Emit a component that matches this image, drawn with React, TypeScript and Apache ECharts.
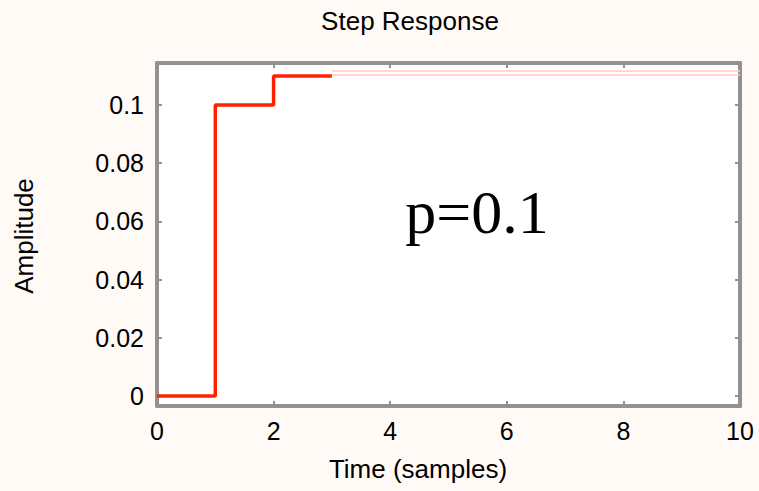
import React, { useEffect, useRef } from "react";
import * as echarts from "echarts";

const stepTimes = [0, 1, 2, 3];
const stepValues = [0, 0.1, 0.11, 0.11];
const faintTimes = [3, 10];
const faintUpper = [0.1117, 0.1117];
const faintLower = [0.1103, 0.1103];
const xTicks = [0, 2, 4, 6, 8, 10];
const yTicks = [0, 0.02, 0.04, 0.06, 0.08, 0.1];
const titleText = "Step Response";
const xLabel = "Time (samples)";
const yLabel = "Amplitude";
const annotation = "p=0.1";

const GRAY = "#929292";
const FONT = "'Liberation Sans', Arial, Helvetica, sans-serif";

export default function App() {
  const ref = useRef<HTMLDivElement>(null);
  useEffect(() => {
    if (!ref.current) return;
    const chart = echarts.init(ref.current, undefined, { renderer: "svg" });
    const pair = (xs: number[], ys: number[]) => xs.map((x, i) => [x, ys[i]]);
    const axisCommon = {
      type: "value" as const,
      axisLine: { show: true, onZero: false, lineStyle: { color: GRAY, width: 4 } },
      axisTick: { show: true, inside: true, length: 5, lineStyle: { color: GRAY, width: 2 } },
      splitLine: { show: false },
    };
    chart.setOption({
      animation: false,
      backgroundColor: "#fffaf6",
      grid: { left: 157, right: 19, top: 63, bottom: 85, show: true, backgroundColor: "#ffffff", borderWidth: 0 },
      xAxis: [
        {
          ...axisCommon,
          position: "bottom",
          min: 0,
          max: 10,
          axisTick: { ...axisCommon.axisTick, customValues: xTicks },
          axisLabel: { customValues: xTicks, color: "#000", fontSize: 25, fontFamily: FONT, margin: 12 },
        },
        {
          ...axisCommon,
          position: "top",
          min: 0,
          max: 10,
          axisTick: { ...axisCommon.axisTick, customValues: xTicks },
          axisLabel: { show: false },
        },
      ],
      yAxis: [
        {
          ...axisCommon,
          position: "left",
          min: -0.003436,
          max: 0.11443,
          axisTick: { ...axisCommon.axisTick, customValues: yTicks },
          axisLabel: {
            customValues: yTicks,
            color: "#000",
            fontSize: 25,
            fontFamily: FONT,
            margin: 13,
            formatter: (v: number) => String(Math.round(v * 100) / 100),
          },
        },
        {
          ...axisCommon,
          position: "right",
          min: -0.003436,
          max: 0.11443,
          axisTick: { ...axisCommon.axisTick, customValues: yTicks },
          axisLabel: { show: false },
        },
      ],
      series: [
        {
          type: "line",
          data: pair(faintTimes, faintUpper),
          showSymbol: false,
          lineStyle: { color: "#ffcdc2", width: 1.5 },
          z: 1,
        },
        {
          type: "line",
          data: pair(faintTimes, faintLower),
          showSymbol: false,
          lineStyle: { color: "#ffcdc2", width: 1.5 },
          z: 1,
        },
        {
          type: "line",
          step: "end",
          data: pair(stepTimes, stepValues),
          showSymbol: false,
          lineStyle: { color: "#ff2200", width: 3.5 },
          z: 3,
        },
      ],
      graphic: [
        {
          type: "text",
          x: 410,
          y: 21,
          style: { text: titleText, fontSize: 26, fontFamily: FONT, fill: "#000", textAlign: "center", textVerticalAlign: "middle" },
        },
        {
          type: "text",
          x: 418,
          y: 469,
          style: { text: xLabel, fontSize: 26, fontFamily: FONT, fill: "#000", textAlign: "center", textVerticalAlign: "middle" },
        },
        {
          type: "text",
          x: 24,
          y: 236,
          rotation: Math.PI / 2,
          style: { text: yLabel, fontSize: 26, fontFamily: FONT, fill: "#000", textAlign: "center", textVerticalAlign: "middle" },
        },
        {
          type: "text",
          x: 477,
          y: 243,
          style: {
            text: annotation,
            fontSize: 62,
            fontFamily: "'Liberation Serif', 'Times New Roman', serif",
            fill: "#000",
            textAlign: "center",
            textVerticalAlign: "bottom",
          },
        },
      ],
    });
    return () => chart.dispose();
  }, []);
  return (
    <div
      ref={ref}
      style={{ width: 759, height: 491, position: "fixed", left: 0, top: 0 }}
    />
  );
}
